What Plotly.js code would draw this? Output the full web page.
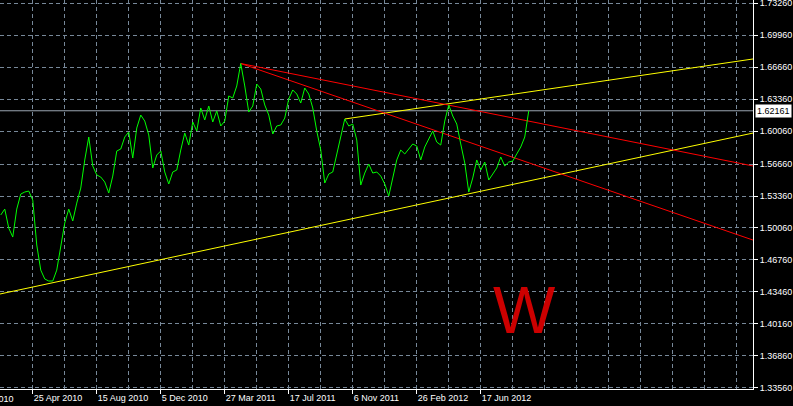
<!DOCTYPE html>
<html>
<head>
<meta charset="utf-8">
<script src="https://cdn.plot.ly/plotly-3.0.1.min.js"></script>
<style>
html,body{margin:0;padding:0;background:#000;}
#chart{width:793px;height:406px;}
</style>
</head>
<body>
<div id="chart"></div>
<script>
// Weekly closes (first bar = week of 28 Feb 2010)
const firstWeek = '2010-02-28';
const closes = [
1.5140,1.5201,1.5005,1.4912,1.5201,1.5356,1.5377,1.5387,1.5294,1.4830,
1.4571,1.4479,1.4458,1.4458,1.4571,1.4830,1.5057,1.5201,1.5078,1.5263,
1.5418,1.5708,1.5945,1.5646,1.5553,1.5532,1.5480,1.5367,1.5542,1.5801,
1.5821,1.5945,1.5997,1.5728,1.6038,1.6172,1.6110,1.5966,1.5625,1.5759,
1.5801,1.5584,1.5460,1.5584,1.5604,1.5811,1.5986,1.5862,1.6100,1.6007,
1.6245,1.6121,1.6265,1.6100,1.6214,1.6059,1.6110,1.6369,1.6348,1.6472,
1.6704,1.6472,1.6203,1.6265,1.6492,1.6441,1.6276,1.6172,1.5976,1.6059,
1.6069,1.6141,1.6338,1.6431,1.6389,1.6296,1.6451,1.6389,1.6245,1.6007,
1.5811,1.5470,1.5563,1.5584,1.5759,1.5945,1.6131,1.6059,1.6079,1.5914,
1.5449,1.5573,1.5666,1.5573,1.5584,1.5542,1.5460,1.5336,1.5522,1.5708,
1.5811,1.5770,1.5821,1.5873,1.5852,1.5708,1.5842,1.5924,1.6007,1.5893,
1.5862,1.6110,1.6276,1.6162,1.6079,1.5873,1.5677,1.5377,1.5522,1.5708,
1.5604,1.5687,1.5501,1.5563,1.5625,1.5739,1.5646,1.5687,1.5697,1.5770,
1.5842,1.5945,1.62161
];
const lastPrice = 1.62161;

// Trend lines (start/end dates and prices)
const supportX = ['2010-02-26 16:30', '2013-10-06 10:30'];
const supportY = [1.4324, 1.5986];
const upperX = ['2011-10-23', '2013-10-06 10:30'];
const upperY = [1.6131, 1.6751];
const redAX = ['2011-04-24', '2013-10-06 10:30'];
const redAY = [1.6704, 1.5646];
const redBX = ['2011-04-24', '2013-10-06 10:30'];
const redBY = [1.6704, 1.4881];

// Axis ticks
const xTickVals = ['2010-04-25','2010-08-15','2010-12-05','2011-03-27','2011-07-17','2011-11-06','2012-02-26','2012-06-17'];
const xTickText = ['25 Apr 2010','15 Aug 2010','5 Dec 2010','27 Mar 2011','17 Jul 2011','6 Nov 2011','26 Feb 2012','17 Jun 2012'];
const yTickVals = [1.73260,1.69960,1.66660,1.63360,1.60060,1.56660,1.53360,1.50060,1.46760,1.43460,1.40160,1.36860,1.33560];
const yTickText = yTickVals.map(v => v.toFixed(5));

const DAY = 86400000;
const t0 = Date.UTC(2010, 1, 28);
const dates = closes.map((_, i) => new Date(t0 + i * 7 * DAY).toISOString().slice(0, 10));

const gridColor = '#778899';
const fontFam = 'Liberation Sans, Arial, sans-serif';

const traces = [
  {x: supportX, y: supportY, mode: 'lines', line: {color: '#ffff00', width: 1}, hoverinfo: 'skip'},
  {x: upperX, y: upperY, mode: 'lines', line: {color: '#ffff00', width: 1}, hoverinfo: 'skip'},
  {x: redAX, y: redAY, mode: 'lines', line: {color: '#ff0000', width: 1}, hoverinfo: 'skip'},
  {x: redBX, y: redBY, mode: 'lines', line: {color: '#ff0000', width: 1}, hoverinfo: 'skip'},
  {x: dates, y: closes, mode: 'lines', line: {color: '#00ff00', width: 1}, hoverinfo: 'skip'}
];

const layout = {
  width: 793, height: 406,
  margin: {l: 0, r: 40, t: 0, b: 17, pad: 0},
  paper_bgcolor: '#000000', plot_bgcolor: '#000000',
  showlegend: false,
  font: {family: fontFam, size: 9, color: '#ffffff'},
  xaxis: {
    type: 'date',
    range: ['2010-02-26 16:30', '2013-10-06 10:30'],
    tickmode: 'array', tickvals: xTickVals, ticktext: xTickText,
    ticklabelposition: 'outside right',
    ticks: 'outside', ticklen: 4, tickcolor: '#ffffff', tickwidth: 1,
    showgrid: true, gridcolor: gridColor, griddash: '4px,3px', gridwidth: 1,
    minor: {tick0: firstWeek, dtick: 8 * 7 * DAY, showgrid: true, gridcolor: gridColor, griddash: '4px,3px', gridwidth: 1, ticks: ''},
    showline: true, linecolor: '#ffffff', linewidth: 1,
    zeroline: false, fixedrange: true,
    tickfont: {family: fontFam, size: 9, color: '#ffffff'}
  },
  yaxis: {
    side: 'right',
    range: [1.3343, 1.7360],
    tickmode: 'array', tickvals: yTickVals, ticktext: yTickText,
    ticklabeloverflow: 'allow',
    ticks: 'outside', ticklen: 4, tickcolor: '#ffffff',
    showgrid: true, gridcolor: gridColor, griddash: '4px,3px', gridwidth: 1,
    showline: true, linecolor: '#ffffff', linewidth: 1,
    zeroline: false, fixedrange: true,
    tickfont: {family: fontFam, size: 9, color: '#ffffff'}
  },
  shapes: [
    {type: 'line', xref: 'paper', x0: 0, x1: 1, yref: 'y', y0: lastPrice, y1: lastPrice,
     line: {color: '#9aa5b2', width: 1}, layer: 'below'}
  ],
  annotations: [
    {xref: 'paper', x: 1, xanchor: 'left', xshift: 2, yref: 'y', y: lastPrice, yanchor: 'middle',
     text: lastPrice.toFixed(5), showarrow: false, bgcolor: '#ffffff', borderpad: 1,
     font: {family: fontFam, size: 9, color: '#000000'}},
    {xref: 'paper', x: -33 / 753, xanchor: 'left', yref: 'paper', y: 0, yanchor: 'top', yshift: -3,
     text: '3 Jan 2010', showarrow: false, font: {family: fontFam, size: 9, color: '#ffffff'}},
    {xref: 'paper', x: 524 / 753, xanchor: 'center', yref: 'paper', y: 1 - 310 / 389, yanchor: 'middle',
     text: 'W', showarrow: false, font: {family: fontFam, size: 66, color: '#cc0000'}}
  ]
};

Plotly.newPlot('chart', traces, layout, {displayModeBar: false, staticPlot: true});
</script>
</body>
</html>
